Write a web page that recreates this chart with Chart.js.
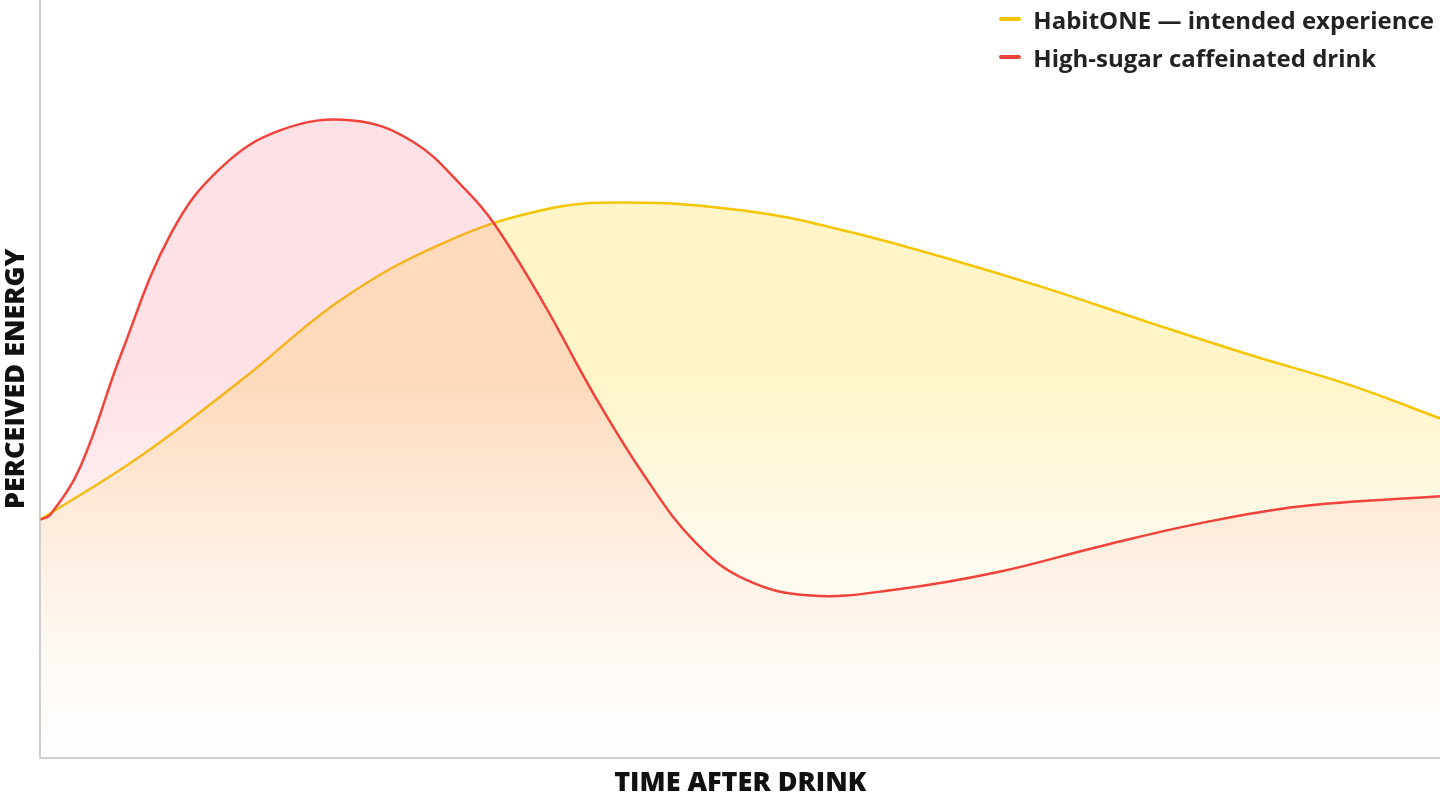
<!DOCTYPE html>
<html><head><meta charset="utf-8">
<script src="https://cdn.jsdelivr.net/npm/chart.js@4/dist/chart.umd.min.js"></script>
<style>
html,body{margin:0;padding:0;background:#fff;}
#wrap{position:relative;width:1440px;height:800px;}
#legend{position:absolute;right:6px;top:0px;font-family:"Open Sans","Noto Sans",sans-serif;font-weight:700;font-size:24px;color:#222;}
#legend div{display:flex;align-items:center;height:38px;}
#legend span{display:inline-block;width:22px;height:4px;border-radius:2px;margin-right:12px;}
</style></head><body>
<div id="wrap"><canvas id="c" width="1440" height="800"></canvas>
<div id="legend">
<div><span style="background:#F7C400"></span>HabitONE — intended experience</div>
<div><span style="background:#F2433A"></span>High-sugar caffeinated drink</div>
</div></div>
<script>
const seriesNames=["HabitONE — intended experience","High-sugar caffeinated drink"];
const habitX=[0,100,200,300,400,500,580,700,800,900,1000,1100,1200,1300,1390];
const habitY=[235,298,373,453,508,541,548,540,520,493,463,430,398,368,335];
const sugarX=[0,10,40,80,130,180,240,310,370,420,450,500,550,600,650,700,765,850,950,1050,1150,1250,1390];
const sugarY=[235,240,288,398,518,583,620,629,608,563,528,448,358,278,213,176,160,166,183,208,231,248,258];
const xTitle="TIME AFTER DRINK", yTitle="PERCEIVED ENERGY";
function grad(ctx,top,bot){const c=ctx.chart,a=c.chartArea;if(!a)return top;const g=c.ctx.createLinearGradient(0,a.top,0,a.bottom);g.addColorStop(0,top);g.addColorStop(0.5,top);g.addColorStop(1,bot);return g;}
new Chart(document.getElementById('c'),{type:'line',
data:{datasets:[
{label:seriesNames[1],data:sugarX.map((x,i)=>({x,y:sugarY[i]})),borderColor:'#F2433A',borderWidth:2.5,pointRadius:0,tension:0.4,fill:'origin',backgroundColor:c=>grad(c,'rgba(250,120,140,0.22)','rgba(255,200,180,0)')},
{label:seriesNames[0],data:habitX.map((x,i)=>({x,y:habitY[i]})),borderColor:'#F7C400',borderWidth:2.5,pointRadius:0,tension:0.4,fill:'origin',backgroundColor:c=>grad(c,'rgba(255,220,60,0.28)','rgba(255,230,200,0)')}
]},
options:{responsive:false,animation:false,layout:{padding:0},
plugins:{legend:{display:false},tooltip:{enabled:false}},
scales:{
x:{type:'linear',min:0,max:1390,grid:{display:false,drawTicks:false},border:{color:'#d0d0d0',width:2},ticks:{display:false},
 title:{display:true,text:xTitle,color:'#111',font:{family:'Open Sans',weight:'800',size:27},padding:{top:10,bottom:0}}},
y:{min:0,max:748,grid:{display:false,drawTicks:false},border:{color:'#d0d0d0',width:2},ticks:{display:false},
 title:{display:true,text:yTitle,color:'#111',font:{family:'Open Sans',weight:'800',size:27},padding:{top:0,bottom:8}}}
}}});
</script></body></html>
